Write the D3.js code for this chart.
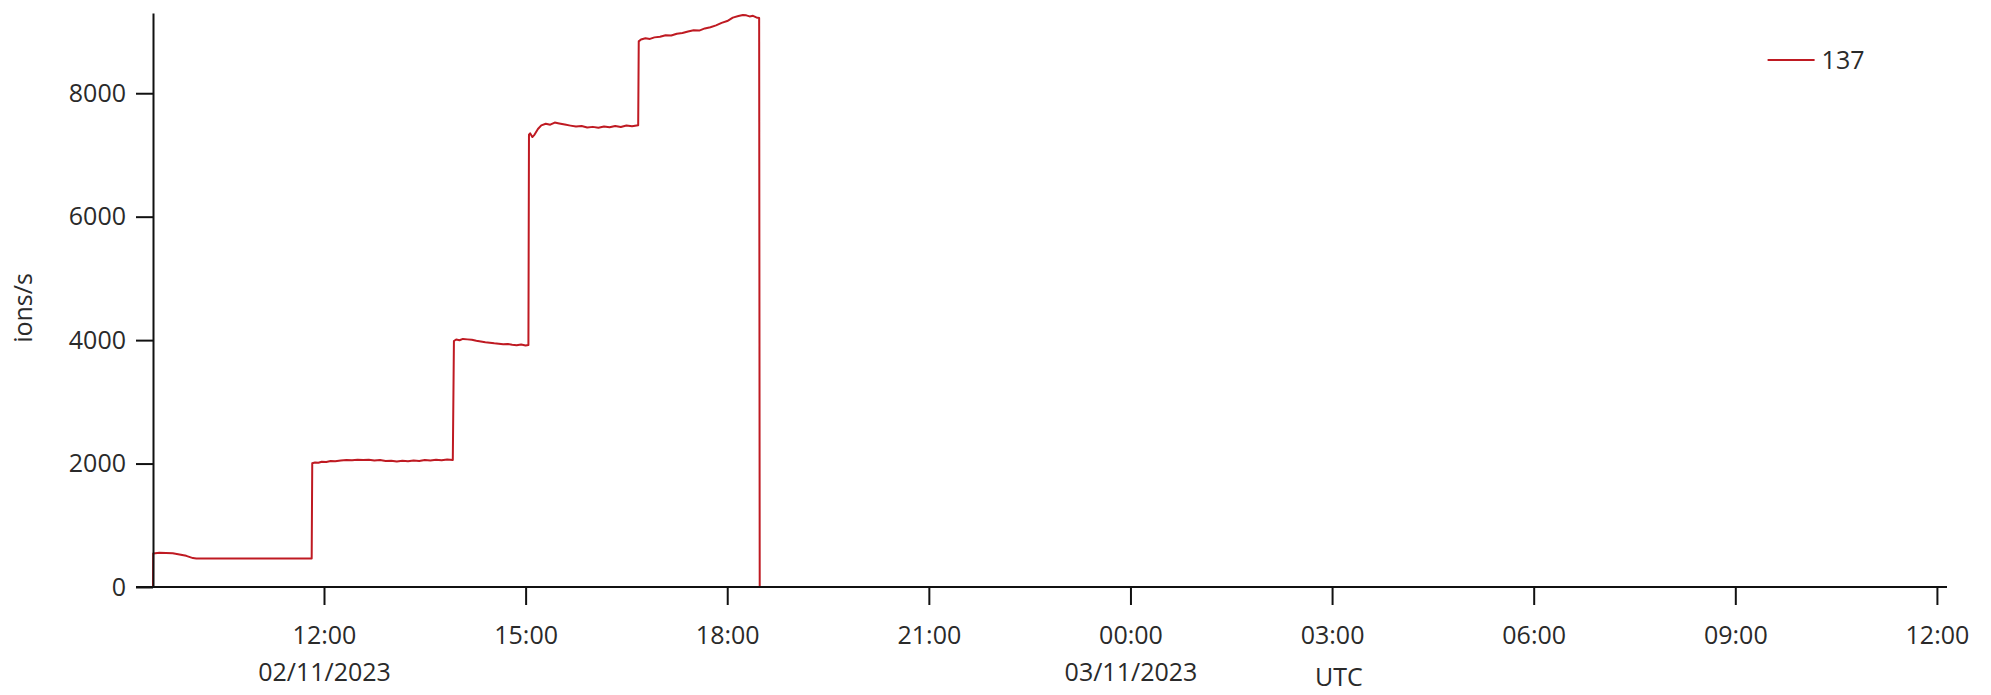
<!DOCTYPE html>
<html>
<head>
<meta charset="utf-8">
<script src="https://cdn.jsdelivr.net/npm/d3@7"></script>
<style>
  body { margin: 0; background: #fff; }
  svg text { font-family: "Open Sans", "Noto Sans", sans-serif; fill: #2a2a2a; }
</style>
</head>
<body>
<div class="board"></div>
<script>
// series "137", ion count rate, UTC timestamps
var seriesName = "137"

var times = [
    "2023-11-02T09:27:20Z", "2023-11-02T09:27:30Z", "2023-11-02T09:33:00Z", "2023-11-02T09:39:00Z",
    "2023-11-02T09:45:00Z", "2023-11-02T09:51:00Z", "2023-11-02T09:57:00Z", "2023-11-02T10:03:00Z",
    "2023-11-02T10:06:00Z", "2023-11-02T10:30:00Z", "2023-11-02T11:00:00Z", "2023-11-02T11:30:00Z",
    "2023-11-02T11:49:00Z",
    "2023-11-02T11:49:30Z", "2023-11-02T11:52:00Z", "2023-11-02T11:55:00Z", "2023-11-02T11:58:00Z",
    "2023-11-02T12:02:00Z", "2023-11-02T12:06:00Z", "2023-11-02T12:10:00Z", "2023-11-02T12:15:00Z",
    "2023-11-02T12:20:00Z", "2023-11-02T12:25:00Z", "2023-11-02T12:30:00Z", "2023-11-02T12:35:00Z",
    "2023-11-02T12:40:00Z", "2023-11-02T12:45:00Z", "2023-11-02T12:50:00Z", "2023-11-02T12:55:00Z",
    "2023-11-02T13:00:00Z", "2023-11-02T13:05:00Z", "2023-11-02T13:10:00Z", "2023-11-02T13:15:00Z",
    "2023-11-02T13:20:00Z", "2023-11-02T13:25:00Z", "2023-11-02T13:30:00Z", "2023-11-02T13:35:00Z",
    "2023-11-02T13:40:00Z", "2023-11-02T13:45:00Z", "2023-11-02T13:50:00Z", "2023-11-02T13:55:00Z",
    "2023-11-02T13:56:00Z", "2023-11-02T13:58:00Z", "2023-11-02T14:01:00Z", "2023-11-02T14:04:00Z",
    "2023-11-02T14:08:00Z", "2023-11-02T14:12:00Z", "2023-11-02T14:16:00Z", "2023-11-02T14:20:00Z",
    "2023-11-02T14:24:00Z", "2023-11-02T14:28:00Z", "2023-11-02T14:32:00Z", "2023-11-02T14:36:00Z",
    "2023-11-02T14:40:00Z", "2023-11-02T14:44:00Z", "2023-11-02T14:48:00Z", "2023-11-02T14:52:00Z",
    "2023-11-02T14:56:00Z", "2023-11-02T15:00:00Z", "2023-11-02T15:02:30Z",
    "2023-11-02T15:03:00Z", "2023-11-02T15:04:00Z", "2023-11-02T15:06:00Z", "2023-11-02T15:08:00Z",
    "2023-11-02T15:11:00Z", "2023-11-02T15:14:00Z", "2023-11-02T15:18:00Z", "2023-11-02T15:22:00Z",
    "2023-11-02T15:26:00Z", "2023-11-02T15:30:00Z", "2023-11-02T15:35:00Z", "2023-11-02T15:40:00Z",
    "2023-11-02T15:45:00Z", "2023-11-02T15:50:00Z", "2023-11-02T15:55:00Z", "2023-11-02T16:00:00Z",
    "2023-11-02T16:05:00Z", "2023-11-02T16:10:00Z", "2023-11-02T16:15:00Z", "2023-11-02T16:20:00Z",
    "2023-11-02T16:25:00Z", "2023-11-02T16:30:00Z", "2023-11-02T16:35:00Z", "2023-11-02T16:40:30Z",
    "2023-11-02T16:41:00Z", "2023-11-02T16:43:00Z", "2023-11-02T16:47:00Z", "2023-11-02T16:51:00Z",
    "2023-11-02T16:55:00Z", "2023-11-02T17:00:00Z", "2023-11-02T17:05:00Z", "2023-11-02T17:10:00Z",
    "2023-11-02T17:15:00Z", "2023-11-02T17:20:00Z", "2023-11-02T17:25:00Z", "2023-11-02T17:30:00Z",
    "2023-11-02T17:35:00Z", "2023-11-02T17:40:00Z", "2023-11-02T17:45:00Z", "2023-11-02T17:50:00Z",
    "2023-11-02T17:55:00Z", "2023-11-02T18:00:00Z", "2023-11-02T18:05:00Z", "2023-11-02T18:10:00Z",
    "2023-11-02T18:14:00Z", "2023-11-02T18:17:00Z", "2023-11-02T18:20:00Z", "2023-11-02T18:23:00Z",
    "2023-11-02T18:26:00Z", "2023-11-02T18:28:30Z",
    "2023-11-02T18:29:00Z", "2023-11-03T12:09:00Z"
]

var counts = [
    0, 541, 556, 552,
    548, 528, 505, 468,
    462, 460, 461, 460,
    461,
    2005, 2018, 2012, 2030,
    2025, 2042, 2038, 2050,
    2058, 2052, 2061, 2056,
    2063, 2050, 2058, 2040,
    2047, 2032, 2045, 2038,
    2050, 2042, 2058, 2049,
    2061, 2052, 2066, 2058,
    3985, 4010, 3998, 4020,
    4012, 4005, 3990, 3978,
    3965, 3958, 3948, 3940,
    3932, 3938, 3925, 3918,
    3930, 3912, 3920,
    7330, 7350, 7290, 7330,
    7420, 7480, 7505, 7490,
    7525, 7510, 7492, 7475,
    7460, 7470, 7445, 7455,
    7440, 7460, 7448, 7470,
    7452, 7478, 7465, 7482,
    8840, 8870, 8890, 8880,
    8905, 8915, 8940, 8935,
    8965, 8975, 9000, 9020,
    9015, 9050, 9070, 9100,
    9140, 9170, 9225, 9250,
    9268, 9262, 9245, 9255,
    9228, 9218,
    0, 0
]

var yTicks = [0, 2000, 4000, 6000, 8000]
var yMax = 9300
var xTickHours = 3
var yLabel = "ions/s"
var xLabel = "UTC"

var W = 1991, H = 695
var margin = { top: 13, right: 44, bottom: 108, left: 153 },
    width = W - margin.left - margin.right,
    height = H - margin.top - margin.bottom

var data = times.map((t, i) => ({ t: new Date(t), v: counts[i] }))

var svg = d3.select(".board")
    .append("svg")
    .attr("width", W)
    .attr("height", H)

var g = svg.append("g")
    .attr("transform", `translate(${margin.left}, ${margin.top})`)

let xScale = d3.scaleUtc()
    .domain(d3.extent(data, d => d.t))
    .range([0, width])

let yScale = d3.scaleLinear()
    .domain([0, yMax])
    .range([height, 0])

// data line first, axes drawn over it
g.append("path")
    .datum(data)
    .attr("fill", "none")
    .attr("stroke", "#bf1a22")
    .attr("stroke-width", 2)
    .attr("stroke-linejoin", "round")
    .attr("d", d3.line()
        .x(d => xScale(d.t))
        .y(d => yScale(d.v)))

let hourFmt = d3.utcFormat("%H:%M")
let dateFmt = d3.utcFormat("%d/%m/%Y")

let xAxis = g.append("g")
    .attr("transform", `translate(0, ${height})`)
    .call(d3.axisBottom(xScale)
        .ticks(d3.utcHour.every(xTickHours))
        .tickSize(18)
        .tickSizeOuter(0)
        .tickFormat(""))

xAxis.select(".domain")
    .attr("d", `M${-17},0H${width}`)

xAxis.selectAll(".tick").each(function (d, i) {
    let t = d3.select(this).append("text")
        .attr("text-anchor", "middle")
        .style("font-size", "25px")
    t.append("tspan").attr("x", 0).attr("y", 57).text(hourFmt(d))
    if (i == 0 || d.getUTCHours() == 0) {
        t.append("tspan").attr("x", 0).attr("y", 94).text(dateFmt(d))
    }
})

let yAxis = g.append("g")
    .call(d3.axisLeft(yScale)
        .tickValues(yTicks)
        .tickSize(17)
        .tickSizeOuter(0)
        .tickPadding(10)
        .tickFormat(d3.format("d")))

yAxis.selectAll(".tick text").style("font-size", "25px")

svg.selectAll(".domain, .tick line")
    .attr("stroke", "#111")
    .attr("stroke-width", 2)

svg.selectAll(".tick text").attr("fill", "#2a2a2a")

// axis titles
g.append("text")
    .attr("transform", `translate(${-130}, ${height / 2 + 8}) rotate(-90)`)
    .attr("text-anchor", "middle")
    .attr("dy", "0.35em")
    .style("font-size", "25px")
    .text(yLabel)

g.append("text")
    .attr("x", width * 0.661)
    .attr("y", height + 99)
    .attr("text-anchor", "middle")
    .style("font-size", "25px")
    .text(xLabel)

// legend
let legend = g.append("g")
    .attr("transform", `translate(${width * 0.9}, 47)`)

legend.append("line")
    .attr("x1", 0).attr("x2", 47)
    .attr("stroke", "#bf1a22")
    .attr("stroke-width", 2)

legend.append("text")
    .attr("x", 54)
    .attr("dy", "0.35em")
    .style("font-size", "25px")
    .text(seriesName)
</script>
</body>
</html>
